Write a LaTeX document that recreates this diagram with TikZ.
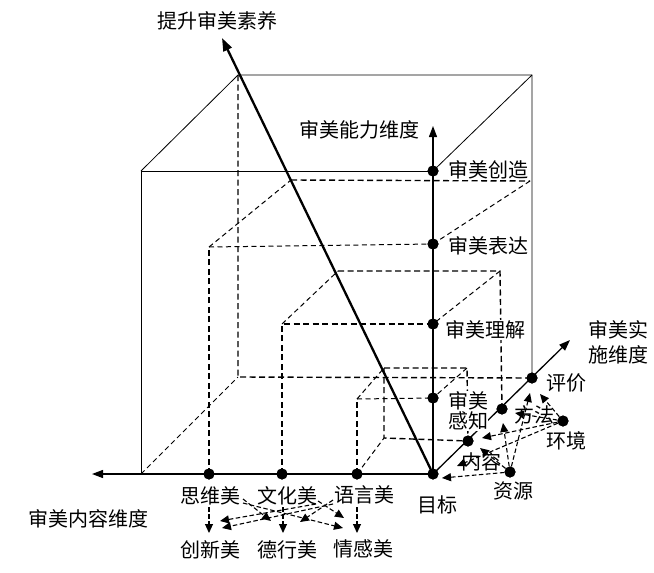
\documentclass[tikz,border=0pt]{standalone}
\usepackage{fontspec}
\setmainfont{Noto Sans CJK SC}
\usetikzlibrary{arrows.meta}
\begin{document}
\begin{tikzpicture}[x=1pt,y=-1pt,
  thinl/.style={line width=0.8pt},
  axisl/.style={line width=1.3pt,-{Triangle[length=11pt,width=8pt]}},
  bigarr/.style={line width=2.3pt,-{Triangle[length=13pt,width=9pt]}},
  dsh/.style={line width=1.4pt,dash pattern=on 6pt off 3.5pt},
  dshthin/.style={line width=1.0pt,dash pattern=on 5pt off 3.5pt},
  dotn/.style={circle,fill=black,inner sep=0pt,minimum size=11pt},
  lbl/.style={font=\fontsize{20}{20}\selectfont,inner sep=0.3pt,fill=white,align=center},
  darr/.style={line width=1.1pt,dash pattern=on 4.5pt off 2.5pt,-{Triangle[length=9pt,width=8pt]}}]
\useasboundingbox (0,0) rectangle (654,573);

% dots
\node[dotn] (mb) at (433,474) {};
\node[dotn] (gz) at (433,398) {};
\node[dotn] (lj) at (433,324) {};
\node[dotn] (bd) at (433,244) {};
\node[dotn] (cz) at (433,171) {};
\node[dotn] (nr) at (468,441) {};
\node[dotn] (ff) at (502,409) {};
\node[dotn] (pj) at (532,378) {};
\node[dotn] (hj) at (563,421) {};
\node[dotn] (zy) at (510,472) {};
\node[dotn] (sw) at (209,474) {};
\node[dotn] (wh) at (282,474) {};
\node[dotn] (yy) at (357,474) {};

% cube corners
\coordinate (A) at (141,171);
\coordinate (B) at (141,474);
\coordinate (E) at (238,75);
\coordinate (F) at (532,75);
\coordinate (G) at (238,377);
% axis ends
\coordinate (hx) at (92,474);
\coordinate (vy) at (433,126);
\coordinate (sx) at (570,340);
\coordinate (tp) at (222,38);
% level boxes
\coordinate (L4a) at (209,247);
\coordinate (L4b) at (291,180);
\coordinate (L4c) at (530,181);
\coordinate (L3a) at (282,324);
\coordinate (L3b) at (338,271);
\coordinate (L3c) at (500,271);
\coordinate (L1a) at (357,399);
\coordinate (L1b) at (384,368);
\coordinate (L1c) at (467,368);
\coordinate (L1d) at (384,438);

% outer cube
\draw[thinl] (cz.center) -- (A) -- (B);
\draw[thinl] (A) -- (E) -- (F) -- (pj.center);
\draw[thinl] (cz.center) -- (F);
\draw[dshthin] (B) -- (G);
\draw[dsh] (E) -- (G) -- (pj.center);

% level 4
\draw[dsh] (sw.center) -- (L4a);
\draw[dshthin] (L4a) -- (bd.center);
\draw[dshthin] (L4a) -- (L4b);
\draw[dsh] (L4b) -- (L4c);
\draw[dshthin] (L4c) -- (bd.center);
% level 3
\draw[dsh] (wh.center) -- (L3a) -- (lj.center);
\draw[dshthin] (L3a) -- (L3b);
\draw[dsh] (L3b) -- (L3c) -- (ff.center);
\draw[dshthin] (L3c) -- (lj.center);
% level 1
\draw[dsh] (yy.center) -- (L1a);
\draw[dshthin] (L1a) -- (gz.center);
\draw[dshthin] (L1a) -- (L1b);
\draw[dsh] (L1b) -- (L1c) -- (nr.center);
\draw[dshthin] (L1c) -- (gz.center);
\draw[dsh] (L1b) -- (L1d) -- (nr.center);
\draw[dshthin] (yy.center) -- (L1d);

% axes
\draw[axisl] (mb.center) -- (hx);
\draw[axisl] (mb.center) -- (vy);
\draw[axisl] (mb.center) -- (sx);
\draw[bigarr] (mb.center) -- (tp);

% labels
\node[lbl] (t0) at (217,21) {提升审美素养};
\node[lbl] (t1) at (359,130) {审美能力维度};
\node[lbl] (t2) at (488,170) {审美创造};
\node[lbl] (t3) at (488,246) {审美表达};
\node[lbl] (t4) at (485,330) {审美理解};
\node[lbl] (t5) at (468,411) {审美\\感知};
\node[lbl,font=\fontsize{20}{25}\selectfont] (t6) at (618,342) {审美实\\施维度};
\node[lbl] (t7) at (566,383) {评价};
\node[lbl] (t8) at (534,415) {方法};
\node[lbl] (t9) at (566,441) {环境};
\node[lbl] (t10) at (481,462) {内容};
\node[lbl] (t11) at (513,491) {资源};
\node[lbl] (t12) at (437,505) {目标};
\node[lbl] (t13) at (88,519) {审美内容维度};
\node[lbl] (swl) at (210,496) {思维美};
\node[lbl] (whl) at (287,496) {文化美};
\node[lbl] (yyl) at (364,495) {语言美};
\node[lbl] (cxl) at (210,550) {创新美};
\node[lbl] (dxl) at (287,550) {德行美};
\node[lbl] (qgl) at (363,549) {情感美};

% content-dimension arrows
\coordinate (v1s) at (209,507); \coordinate (v1t) at (209,533);
\coordinate (v2s) at (283,507); \coordinate (v2t) at (283,533);
\coordinate (v3s) at (357,507); \coordinate (v3t) at (357,533);
\draw[darr] (v1s) -- (v1t);
\draw[darr] (v2s) -- (v2t);
\draw[darr] (v3s) -- (v3t);
\coordinate (c1s) at (243,499); \coordinate (c1t) at (271,521);
\coordinate (c2s) at (243,503); \coordinate (c2t) at (343,528);
\coordinate (c3s) at (318,501); \coordinate (c3t) at (344,518);
\coordinate (c4s) at (316,504); \coordinate (c4t) at (220,521);
\coordinate (c5s) at (333,504); \coordinate (c5t) at (222,528);
\coordinate (c6s) at (333,500); \coordinate (c6t) at (300,522);
\draw[darr] (c1s) -- (c1t);
\draw[darr] (c2s) -- (c2t);
\draw[darr] (c3s) -- (c3t);
\draw[darr] (c4s) -- (c4t);
\draw[darr] (c5s) -- (c5t);
\draw[darr] (c6s) -- (c6t);

% implementation-dimension arrows
\coordinate (z1) at (442,478);
\coordinate (z2) at (480,448);
\coordinate (z3) at (503,423);
\coordinate (z4) at (530,393);
\coordinate (h1) at (457,466);
\coordinate (h2) at (482,438);
\coordinate (h3) at (515,413);
\coordinate (h4) at (540,394);
\draw[darr] (zy) -- (z1);
\draw[darr] (zy) -- (z2);
\draw[darr] (zy) -- (z3);
\draw[darr] (zy) -- (z4);
\draw[darr] (hj) -- (h1);
\draw[darr] (hj) -- (h2);
\draw[darr] (hj) -- (h3);
\draw[darr] (hj) -- (h4);

% redraw dots on top
\foreach \n in {mb,gz,lj,bd,cz,nr,ff,pj,hj,zy,sw,wh,yy}
  \fill (\n) circle (5.5pt);
\end{tikzpicture}
\end{document}
